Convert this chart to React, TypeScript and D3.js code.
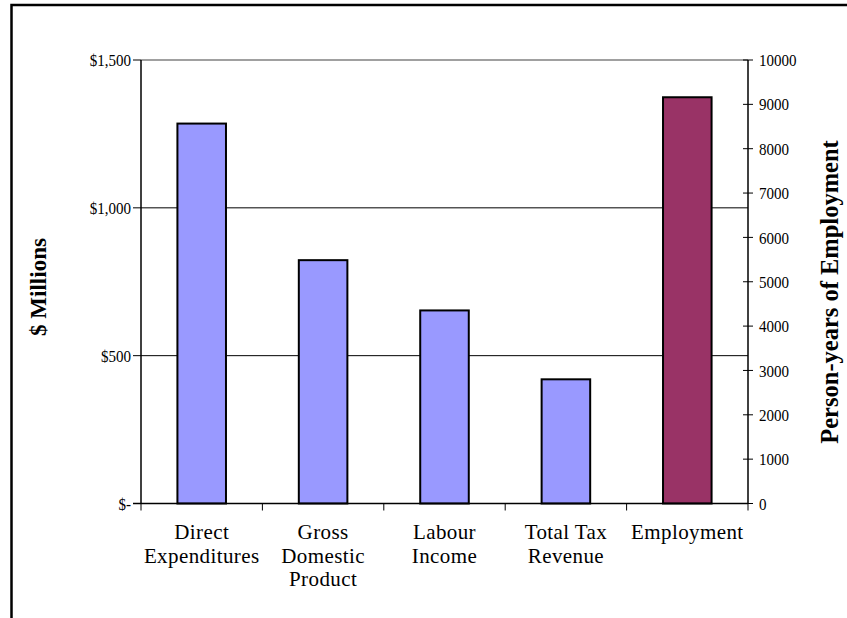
import React from "react";
import * as d3 from "d3";

// Economic impact categories and their values
const categories = [
  "Direct Expenditures",
  "Gross Domestic Product",
  "Labour Income",
  "Total Tax Revenue",
  "Employment",
];
const categoryLines = [
  ["Direct", "Expenditures"],
  ["Gross", "Domestic", "Product"],
  ["Labour", "Income"],
  ["Total Tax", "Revenue"],
  ["Employment"],
];
// $ millions (left axis)
const dollarCategories = categories.slice(0, 4);
const dollarValues = [1285, 823, 653, 420];
// person-years (right axis)
const employmentCategory = "Employment";
const employmentValue = 9160;

const leftTicks = [0, 500, 1000, 1500];
const leftTickLabels = ["$-", "$500", "$1,000", "$1,500"];
const rightTicks = [0, 1000, 2000, 3000, 4000, 5000, 6000, 7000, 8000, 9000, 10000];

const W = 847;
const H = 618;
const plot = { left: 141, right: 748, top: 60, bottom: 503.5 };
const FONT = "'Liberation Serif', 'Times New Roman', serif";
// tick labels are set in a slightly condensed face
const TICK_SX = 0.86;

export default function App() {
  const x = d3
    .scaleBand<string>()
    .domain(categories)
    .range([plot.left, plot.right])
    .paddingInner(0.6)
    .paddingOuter(0.3);
  const step = x.step();
  const yLeft = d3.scaleLinear().domain([0, 1500]).range([plot.bottom, plot.top]);
  const yRight = d3.scaleLinear().domain([0, 10000]).range([plot.bottom, plot.top]);

  const boundaries = d3.range(categories.length + 1).map((i) => plot.left + i * step);

  return (
    <svg
      width={W}
      height={H}
      style={{ position: "absolute", left: 0, top: 0, background: "#fff" }}
      fontFamily={FONT}
    >
      <rect x={0} y={0} width={W} height={H} fill="#fff" />
      {/* outer frame */}
      <path d={`M11.5,${H} V5 H${W}`} fill="none" stroke="#000" strokeWidth={2.5} />

      {/* plot top edge */}
      <line x1={plot.left} x2={plot.right} y1={plot.top} y2={plot.top} stroke="#808080" strokeWidth={1.5} />
      {/* gridlines */}
      {leftTicks
        .filter((t) => t > 0 && t < 1500)
        .map((t) => (
          <line key={t} x1={plot.left} x2={plot.right} y1={yLeft(t)} y2={yLeft(t)} stroke="#000" strokeWidth={1} />
        ))}

      {/* bars on the $ axis */}
      {dollarCategories.map((c, i) => (
        <rect
          key={c}
          x={x(c)}
          y={yLeft(dollarValues[i])}
          width={x.bandwidth()}
          height={plot.bottom - yLeft(dollarValues[i])}
          fill="#9999FF"
          stroke="#000"
          strokeWidth={2}
        />
      ))}
      {/* employment bar on the right axis */}
      <rect
        x={x(employmentCategory)}
        y={yRight(employmentValue)}
        width={x.bandwidth()}
        height={plot.bottom - yRight(employmentValue)}
        fill="#993366"
        stroke="#000"
        strokeWidth={2}
      />

      {/* left axis */}
      <line x1={plot.left} x2={plot.left} y1={plot.top} y2={plot.bottom} stroke="#000" strokeWidth={1.5} />
      {leftTicks.map((t, i) => (
        <g key={t}>
          <line x1={plot.left - 8} x2={plot.left} y1={yLeft(t)} y2={yLeft(t)} stroke="#000" strokeWidth={1} />
          <text
            transform={`translate(${plot.left - 10},${yLeft(t)}) scale(${TICK_SX},1)`}
            dy="0.35em"
            textAnchor="end"
            fontSize={17.5}
            fill="#000"
          >
            {leftTickLabels[i]}
          </text>
        </g>
      ))}

      {/* right axis */}
      <line x1={plot.right} x2={plot.right} y1={plot.top} y2={plot.bottom} stroke="#000" strokeWidth={1.5} />
      {rightTicks.map((t) => (
        <g key={t}>
          <line x1={plot.right - 5} x2={plot.right + 5} y1={yRight(t)} y2={yRight(t)} stroke="#000" strokeWidth={1} />
          <text
            transform={`translate(${plot.right + 11},${yRight(t)}) scale(${TICK_SX},1)`}
            dy="0.35em"
            textAnchor="start"
            fontSize={17.5}
            fill="#000"
          >
            {t}
          </text>
        </g>
      ))}

      {/* category axis */}
      <line x1={plot.left - 8} x2={plot.right} y1={plot.bottom} y2={plot.bottom} stroke="#000" strokeWidth={1.5} />
      {boundaries.map((b, i) => (
        <line key={i} x1={b} x2={b} y1={plot.bottom} y2={plot.bottom + 7} stroke="#000" strokeWidth={1} />
      ))}
      {categories.map((c, i) => (
        <text key={c} x={(x(c) as number) + x.bandwidth() / 2} y={539} textAnchor="middle" fontSize={21} fill="#000" letterSpacing={0.4}>
          {categoryLines[i].map((ln, j) => (
            <tspan key={j} x={(x(c) as number) + x.bandwidth() / 2} dy={j === 0 ? 0 : 23.5}>
              {ln}
            </tspan>
          ))}
        </text>
      ))}

      {/* axis titles */}
      <text
        transform={`translate(38,287) rotate(-90)`}
        textAnchor="middle"
        dy="0.35em"
        fontSize={23}
        fontWeight="bold"
        fill="#000"
      >
        $ Millions
      </text>
      <text
        transform={`translate(829,292) rotate(-90)`}
        textAnchor="middle"
        dy="0.35em"
        fontSize={24.5}
        fontWeight="bold"
        fill="#000"
      >
        Person-years of Employment
      </text>
    </svg>
  );
}
